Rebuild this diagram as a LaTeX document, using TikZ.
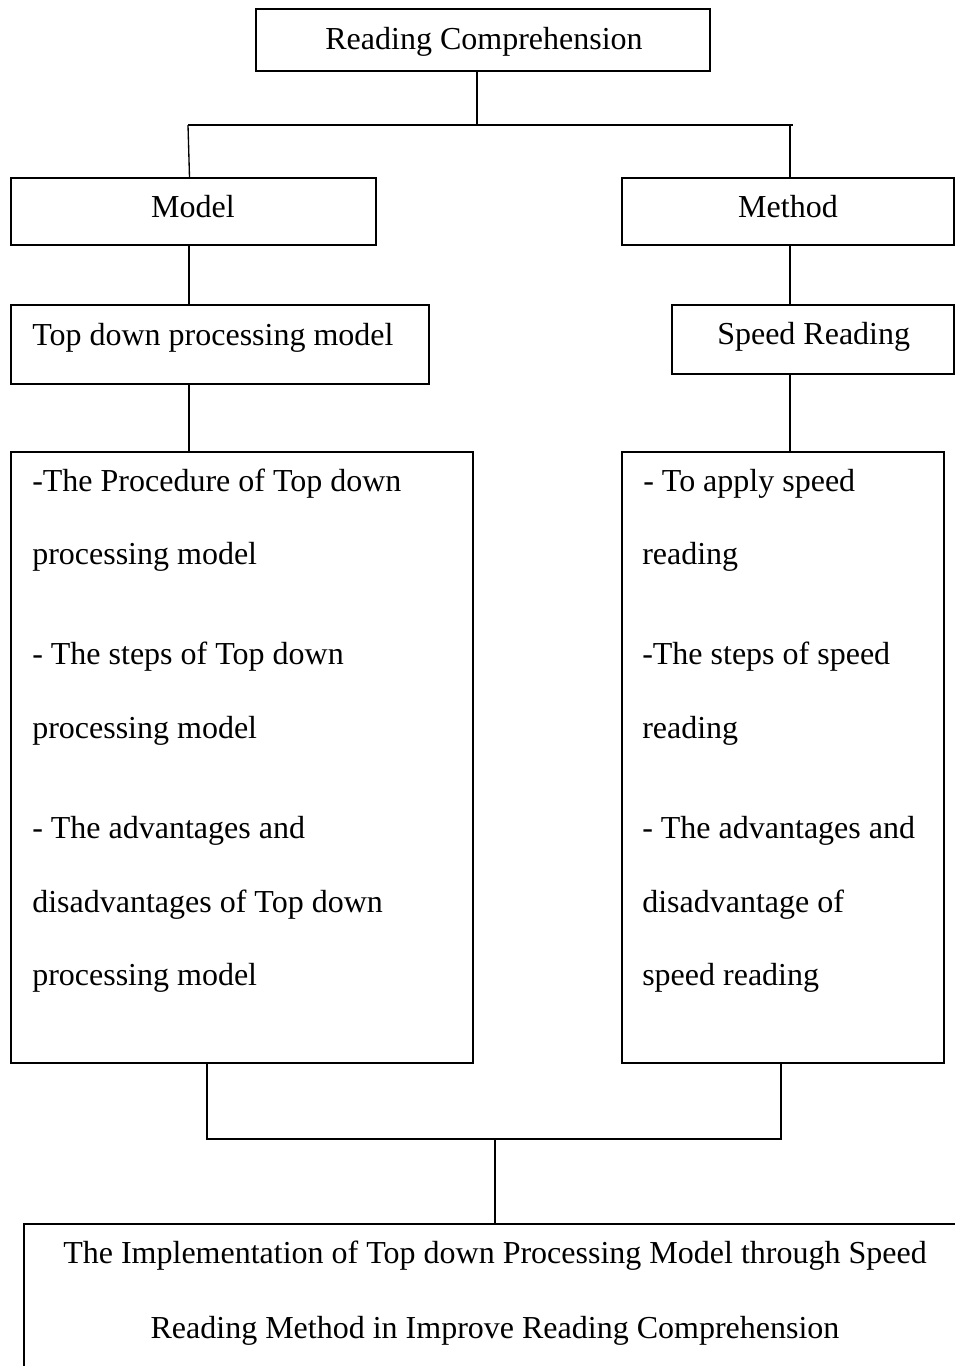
\documentclass[tikz,border=0pt]{standalone}
\usepackage{fontspec}
\setmainfont{Liberation Serif}
\begin{document}
\begin{tikzpicture}[x=0.75pt,y=-0.75pt,
  box/.style={draw=black,line width=1pt,rectangle,inner sep=0pt,fill=none},
  txt/.style={inner sep=0pt,font=\fontsize{24pt}{28pt}\selectfont},
  lft/.style={txt,anchor=base west},
  ctr/.style={txt,anchor=base},
  conn/.style={draw=black,line width=1pt}]
\clip (0,0) rectangle (955,1366);
\fill[white] (0,0) rectangle (955,1366);
% boxes
\node[box,minimum width=454*0.75pt,minimum height=62*0.75pt] (rc) at (483,40) {};
\node[box,minimum width=365*0.75pt,minimum height=67*0.75pt] (model) at (193.5,211.5) {};
\node[box,minimum width=332*0.75pt,minimum height=67*0.75pt] (method) at (788,211.5) {};
\node[box,minimum width=418*0.75pt,minimum height=79*0.75pt] (tdpm) at (220,344.5) {};
\node[box,minimum width=282*0.75pt,minimum height=69*0.75pt] (sr) at (813,339.5) {};
\node[box,minimum width=462*0.75pt,minimum height=611*0.75pt] (lbig) at (242,757.5) {};
\node[box,minimum width=322*0.75pt,minimum height=611*0.75pt] (rbig) at (783,757.5) {};
\node[box,minimum width=956*0.75pt,minimum height=166*0.75pt] (final) at (502,1307) {};
% texts
\node[ctr] (t-rc) at (484,50) {Reading Comprehension};
\node[ctr] (t-model) at (193,217) {Model};
\node[ctr] (t-method) at (788,217) {Method};
\node[lft] (t-tdpm) at (32,345) {Top down processing model};
\node[lft] (t-sr) at (717,344) {Speed Reading};
\node[lft] (l1) at (32,491) {-The Procedure of Top down};
\node[lft] (l2) at (32,564) {processing model};
\node[lft] (l3) at (32,664) {- The steps of Top down};
\node[lft] (l4) at (32,738) {processing model};
\node[lft] (l5) at (32,838) {- The advantages and};
\node[lft] (l6) at (32,912) {disadvantages of Top down};
\node[lft] (l7) at (32,985) {processing model};
\node[lft] (r1) at (643,491) {- To apply speed};
\node[lft] (r2) at (642,564) {reading};
\node[lft] (r3) at (642,664) {-The steps of speed};
\node[lft] (r4) at (642,738) {reading};
\node[lft] (r5) at (642,838) {- The advantages and};
\node[lft] (r6) at (642,912) {disadvantage of};
\node[lft] (r7) at (642,985) {speed reading};
\node[ctr] (f1) at (495,1263) {The Implementation of Top down Processing Model through Speed};
\node[ctr] (f2) at (495,1338) {Reading Method in Improve Reading Comprehension};
% connectors
\coordinate (j1) at (477,125);
\coordinate (hl) at (188,125);
\coordinate (hr) at (793,125);
\coordinate (dr) at (790,125);
\coordinate (cl) at (189,0);
\coordinate (cr) at (790,0);
\coordinate (bl) at (207,1139);
\coordinate (br) at (781,1139);
\coordinate (bm) at (495,1139);
\draw[conn] (rc.south -| j1) -- (j1);
\draw[conn] (hl) -- (hr);
\draw[conn] (hl) -- ([xshift=-3pt]model.north);
\draw[conn] (dr) -- (dr |- method.north);
\draw[conn] (model.south -| cl) -- (tdpm.north -| cl);
\draw[conn] (tdpm.south -| cl) -- (lbig.north -| cl);
\draw[conn] (method.south -| cr) -- (sr.north -| cr);
\draw[conn] (sr.south -| cr) -- (rbig.north -| cr);
\draw[conn] (lbig.south -| bl) -- (bl) -- (br) -- (rbig.south -| br);
\draw[conn] (bm) -- (final.north -| bm);
\end{tikzpicture}
\end{document}
